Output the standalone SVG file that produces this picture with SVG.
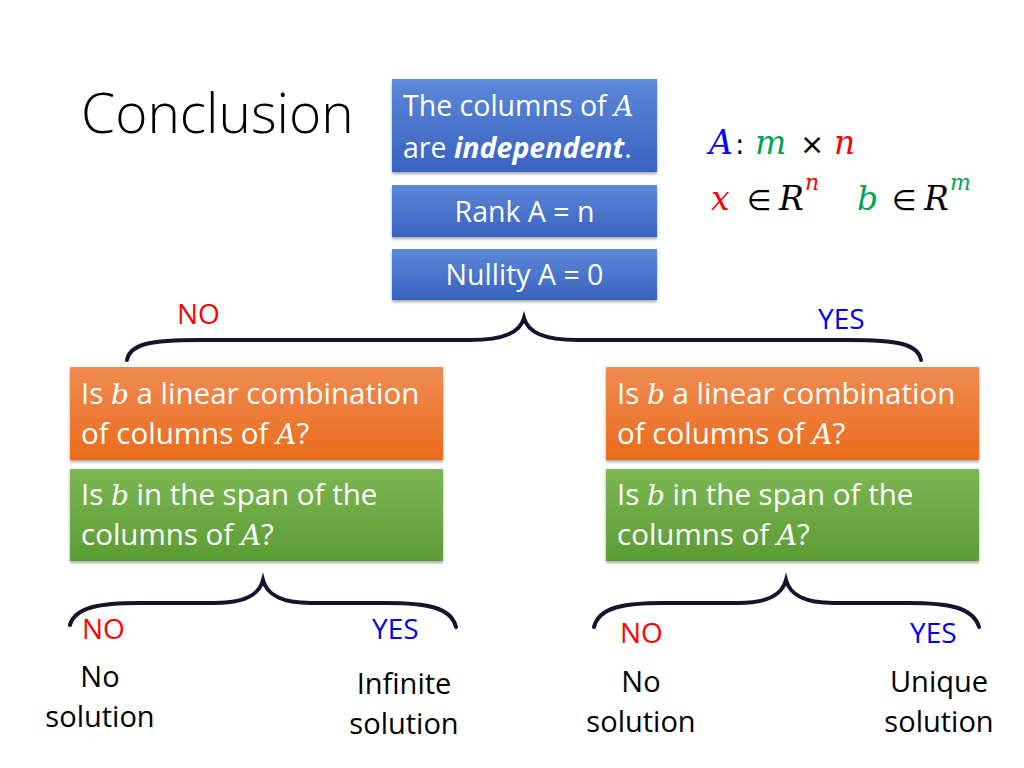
<svg xmlns="http://www.w3.org/2000/svg" width="1024" height="768" viewBox="0 0 1024 768">
<defs>
<linearGradient id="gBlue" x1="0" y1="0" x2="0" y2="1"><stop offset="0" stop-color="#5d89d8"/><stop offset="1" stop-color="#3862c0"/></linearGradient>
<linearGradient id="gOrange" x1="0" y1="0" x2="0" y2="1"><stop offset="0" stop-color="#f08b53"/><stop offset="1" stop-color="#e96c1c"/></linearGradient>
<linearGradient id="gGreen" x1="0" y1="0" x2="0" y2="1"><stop offset="0" stop-color="#7cb753"/><stop offset="1" stop-color="#5c9c35"/></linearGradient>
<filter id="sh" x="-5%" y="-10%" width="110%" height="125%"><feDropShadow dx="0" dy="2" stdDeviation="1.5" flood-color="#000" flood-opacity="0.35"/></filter>
</defs>
<style>
text{font-family:"Open Sans","Liberation Sans",sans-serif;}
.w{fill:#fff;font-size:29.5px;}
.wb{fill:#fff;font-size:28.5px;}
.k{fill:#000;font-size:29px;}
.m{font-family:"DejaVu Serif","Liberation Serif",serif;font-style:italic;}
.s{font-family:"DejaVu Sans",sans-serif;}
.no{fill:#ff0000;font-size:28px;}
.yes{fill:#0000ee;font-size:28px;}
.brace{fill:none;stroke:#14142e;stroke-width:4;stroke-linecap:round;}
</style>
<rect width="1024" height="768" fill="#fff"/>
<text x="81" y="133" font-size="55" font-weight="300" fill="#000">Conclusion</text>

<g id="box-independent">
<rect x="392" y="79" width="265" height="93" fill="url(#gBlue)" filter="url(#sh)"/>
<text class="wb" x="403" y="116">The columns of <tspan class="m" font-size="27">A</tspan></text>
<text class="wb" x="403" y="158">are <tspan font-weight="bold" font-style="italic">independent</tspan>.</text>
</g>
<g id="box-rank">
<rect x="392" y="185" width="265" height="52" fill="url(#gBlue)" filter="url(#sh)"/>
<text class="wb" x="524.5" y="222" text-anchor="middle">Rank A = n</text>
</g>
<g id="box-nullity">
<rect x="392" y="249" width="265" height="51" fill="url(#gBlue)" filter="url(#sh)"/>
<text class="wb" x="524.5" y="285" text-anchor="middle">Nullity A = 0</text>
</g>

<g id="legend">
<text x="709" y="154" class="m" font-size="33" fill="#0000ff">A</text>
<text x="735" y="154" class="s" font-size="28" fill="#000">:</text>
<text x="755" y="154" class="m" font-size="33" fill="#00a550">m</text>
<text x="800" y="154" class="s" font-size="29" fill="#000">×</text>
<text x="834" y="154" class="m" font-size="33" fill="#ff0000">n</text>
<text x="711" y="210" class="m" font-size="33" fill="#ff0000">x</text>
<text x="747" y="210" class="s" font-size="28" fill="#000">∈</text>
<text x="779" y="210" class="m" font-size="33" fill="#000">R</text>
<text x="805" y="190" class="m" font-size="22" fill="#ff0000">n</text>
<text x="857" y="210" class="m" font-size="33" fill="#00a550">b</text>
<text x="892" y="210" class="s" font-size="28" fill="#000">∈</text>
<text x="924" y="210" class="m" font-size="33" fill="#000">R</text>
<text x="950" y="190" class="m" font-size="22" fill="#00a550">m</text>
</g>

<g id="connectors">
<path class="brace" d="M127,360 C130,344 150,340 200,340 L470,340 C505,340 520,332 524,318 C528,332 543,340 578,340 L848,340 C898,340 918,344 921,360"/>
<path class="brace" d="M70,625 C75,607 100,603 140,603 L215,603 C245,603 259,595 263,580 C267,595 281,603 311,603 L386,603 C426,603 451,607 456,627"/>
<path class="brace" d="M594,627 C599,607 624,603 664,603 L738,603 C768,603 782,595 786,580 C790,595 804,603 834,603 L908,603 C948,603 973,607 979,627"/>
</g>

<g id="label-no-top"><text class="no" x="177" y="324">NO</text></g>
<g id="label-yes-top"><text class="yes" x="818" y="329">YES</text></g>

<g id="left-orange">
<rect x="70" y="367" width="373" height="93" fill="url(#gOrange)" filter="url(#sh)"/>
<text class="w" x="81" y="404">Is <tspan class="m" font-size="28">b</tspan> a linear combination</text>
<text class="w" x="81" y="444">of columns of <tspan class="m" font-size="28">A</tspan>?</text>
</g>
<g id="left-green">
<rect x="70" y="469" width="373" height="92" fill="url(#gGreen)" filter="url(#sh)"/>
<text class="w" x="81" y="505">Is <tspan class="m" font-size="28">b</tspan> in the span of the</text>
<text class="w" x="81" y="545">columns of <tspan class="m" font-size="28">A</tspan>?</text>
</g>
<g id="right-orange">
<rect x="606" y="367" width="373" height="93" fill="url(#gOrange)" filter="url(#sh)"/>
<text class="w" x="617" y="404">Is <tspan class="m" font-size="28">b</tspan> a linear combination</text>
<text class="w" x="617" y="444">of columns of <tspan class="m" font-size="28">A</tspan>?</text>
</g>
<g id="right-green">
<rect x="606" y="469" width="373" height="92" fill="url(#gGreen)" filter="url(#sh)"/>
<text class="w" x="617" y="505">Is <tspan class="m" font-size="28">b</tspan> in the span of the</text>
<text class="w" x="617" y="545">columns of <tspan class="m" font-size="28">A</tspan>?</text>
</g>

<g id="outcome-ll">
<text class="no" x="82" y="639">NO</text>
<text class="k" x="100" y="687" text-anchor="middle">No</text>
<text class="k" x="100" y="727" text-anchor="middle">solution</text>
</g>
<g id="outcome-lr">
<text class="yes" x="372" y="639">YES</text>
<text class="k" x="404" y="694" text-anchor="middle">Infinite</text>
<text class="k" x="404" y="734" text-anchor="middle">solution</text>
</g>
<g id="outcome-rl">
<text class="no" x="620" y="643">NO</text>
<text class="k" x="641" y="692" text-anchor="middle">No</text>
<text class="k" x="641" y="732" text-anchor="middle">solution</text>
</g>
<g id="outcome-rr">
<text class="yes" x="910" y="643">YES</text>
<text class="k" x="939" y="692" text-anchor="middle">Unique</text>
<text class="k" x="939" y="732" text-anchor="middle">solution</text>
</g>
</svg>
